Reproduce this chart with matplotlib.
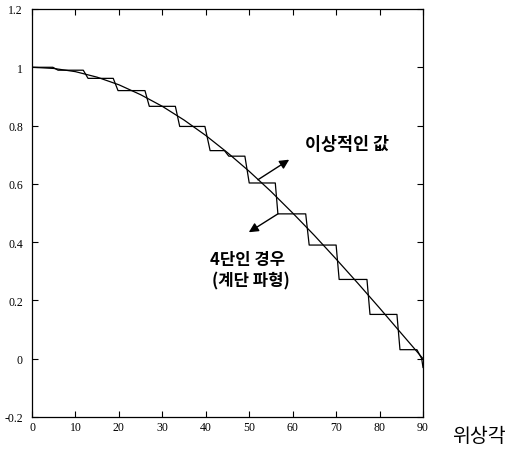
import matplotlib
matplotlib.use("Agg")
import matplotlib.pyplot as plt

# Ideal curve (every 5 degrees)
angle_deg = [0, 5, 10, 15, 20, 25, 30, 35, 40, 45, 50, 55, 60, 65, 70, 75, 80, 85, 88, 90]
ideal_value = [1.0, 0.996, 0.985, 0.966, 0.94, 0.906, 0.866, 0.819, 0.766, 0.707,
               0.643, 0.574, 0.5, 0.423, 0.342, 0.259, 0.174, 0.087, 0.035, 0.0]

# Staircase (4-level) waveform, corner points
stair_x = [0, 4.8, 6.0, 11.8, 12.9, 18.7, 19.8, 26.0, 27.0, 33.0, 34.0, 39.8, 41.0,
           44.3, 45.3, 49.0, 50.0, 56.0, 56.6, 63.0, 63.8, 70.0, 70.7, 77.1, 77.8,
           84.0, 84.7, 88.6, 89.7, 90.0]
stair_y = [1.0, 1.0, 0.99, 0.99, 0.962, 0.962, 0.92, 0.92, 0.866, 0.866, 0.797, 0.797, 0.714,
           0.714, 0.695, 0.695, 0.603, 0.603, 0.497, 0.497, 0.39, 0.39, 0.272, 0.272, 0.152,
           0.152, 0.031, 0.031, 0.0, -0.03]

xticks = [0, 10, 20, 30, 40, 50, 60, 70, 80, 90]
yticks = [-0.2, 0, 0.2, 0.4, 0.6, 0.8, 1, 1.2]
ytick_labels = ["-0.2", "0", "0.2", "0.4", "0.6", "0.8", "1", "1.2"]

label_ideal = "이상적인 값"
label_stair_1 = "4단인 경우"
label_stair_2 = "(계단 파형)"
label_x = "위상각"

W, H = 521, 452
fig = plt.figure(figsize=(W / 100, H / 100), dpi=100)
ax = fig.add_axes([32 / W, 1 - 418 / H, (423 - 32) / W, (418 - 10) / H])

ax.plot(angle_deg, ideal_value, color="black", lw=0.9)
ax.plot(stair_x, stair_y, color="black", lw=0.9)

ax.set_xlim(0, 90)
ax.set_ylim(-0.2, 1.2)
ax.set_xticks(xticks)
ax.set_yticks(yticks)
ax.set_yticklabels(ytick_labels)
ax.tick_params(direction="in", top=True, right=True, length=4, width=0.8,
               labelsize=8.5)
ax.tick_params(axis="x", pad=3)
ax.tick_params(axis="y", pad=6.5)
for lab in ax.get_xticklabels() + ax.get_yticklabels():
    lab.set_fontfamily("Liberation Serif")
for s in ax.spines.values():
    s.set_linewidth(0.9)

kfont = ["Noto Sans CJK KR", "DejaVu Sans"]

ax.annotate("", xy=(59.2, 0.683), xytext=(52.0, 0.614),
            arrowprops=dict(arrowstyle="-|>", color="black", lw=1.0,
                            mutation_scale=14, shrinkA=0, shrinkB=0))
ax.annotate("", xy=(49.9, 0.434), xytext=(56.6, 0.497),
            arrowprops=dict(arrowstyle="-|>", color="black", lw=1.0,
                            mutation_scale=14, shrinkA=0, shrinkB=0))

fig.text(347 / W, 1 - 145 / H, label_ideal, family=kfont, fontsize=12.5,
         fontweight="bold", ha="center", va="center")
fig.text(248 / W, 1 - 260 / H, label_stair_1, family=kfont, fontsize=12,
         fontweight="bold", ha="center", va="center")
fig.text(251 / W, 1 - 281 / H, label_stair_2, family=kfont, fontsize=12,
         fontweight="bold", ha="center", va="center")
fig.text(479 / W, 1 - 437 / H, label_x, family=kfont, fontsize=14,
         ha="center", va="center")

fig.savefig("out.png", dpi=100)
